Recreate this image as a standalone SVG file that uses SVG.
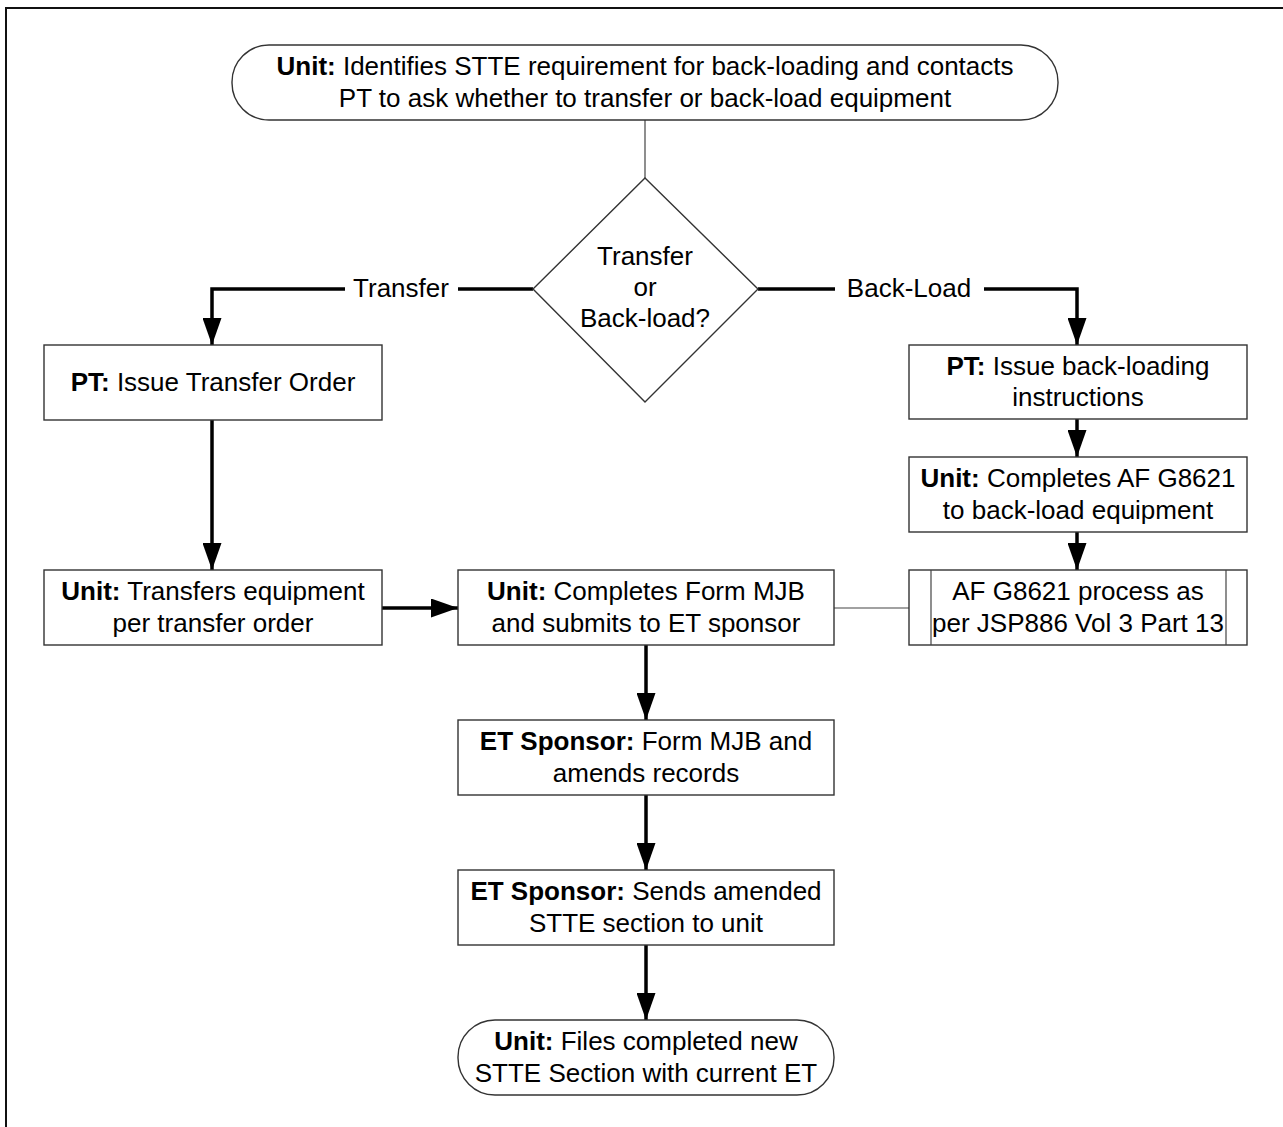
<svg xmlns="http://www.w3.org/2000/svg" width="1283" height="1127" viewBox="0 0 1283 1127">
<defs>
<style>
.box{fill:#fff;stroke:#333;stroke-width:1.4}
.t{font-family:"Liberation Sans",Arial,sans-serif;font-size:26px;fill:#000;text-anchor:middle}
.b{font-weight:bold}
.thick{fill:none;stroke:#000;stroke-width:3.5}
.thin{fill:none;stroke:#444;stroke-width:1.2}
</style>
<marker id="ah" viewBox="0 0 27 19" refX="27" refY="9.5" markerWidth="27" markerHeight="19" markerUnits="userSpaceOnUse" orient="auto">
<path d="M0,0 L27,9.5 L0,19 Z" fill="#000"/>
</marker>
</defs>
<rect width="1283" height="1127" fill="#fff"/>
<path d="M6,1127 V8 H1283" fill="none" stroke="#111" stroke-width="2"/>

<g id="connectors">
<line class="thin" x1="645" y1="120" x2="645" y2="178"/>
<polyline class="thick" points="533,289 458,289"/>
<polyline class="thick" points="345,289 212,289 212,345" marker-end="url(#ah)"/>
<polyline class="thick" points="758,289 835,289"/>
<polyline class="thick" points="984,289 1077,289 1077,345" marker-end="url(#ah)"/>
<line class="thick" x1="212" y1="420" x2="212" y2="570" marker-end="url(#ah)"/>
<line class="thick" x1="382" y1="608" x2="458" y2="608" marker-end="url(#ah)"/>
<line class="thin" x1="834" y1="608" x2="909" y2="608"/>
<line class="thick" x1="1077" y1="419" x2="1077" y2="457" marker-end="url(#ah)"/>
<line class="thick" x1="1077" y1="532" x2="1077" y2="570" marker-end="url(#ah)"/>
<line class="thick" x1="646" y1="645" x2="646" y2="720" marker-end="url(#ah)"/>
<line class="thick" x1="646" y1="795" x2="646" y2="870" marker-end="url(#ah)"/>
<line class="thick" x1="646" y1="945" x2="646" y2="1020" marker-end="url(#ah)"/>
<text class="t" x="401" y="297">Transfer</text>
<text class="t" x="909" y="297">Back-Load</text>
</g>

<g id="start">
<rect class="box" x="232" y="45" width="826" height="75" rx="37" ry="37"/>
<text class="t" x="645" y="75"><tspan class="b">Unit:</tspan> Identifies STTE requirement for back-loading and contacts</text>
<text class="t" x="645" y="107">PT to ask whether to transfer or back-load equipment</text>
</g>

<g id="decision">
<polygon class="box" points="645,178 758,289 645,402 533,289"/>
<text class="t" x="645" y="265">Transfer</text>
<text class="t" x="645" y="296">or</text>
<text class="t" x="645" y="327">Back-load?</text>
</g>

<g id="pt-transfer">
<rect class="box" x="44" y="345" width="338" height="75"/>
<text class="t" x="213" y="391"><tspan class="b">PT:</tspan> Issue Transfer Order</text>
</g>

<g id="unit-transfers">
<rect class="box" x="44" y="570" width="338" height="75"/>
<text class="t" x="213" y="600"><tspan class="b">Unit:</tspan> Transfers equipment</text>
<text class="t" x="213" y="632">per transfer order</text>
</g>

<g id="unit-mjb">
<rect class="box" x="458" y="570" width="376" height="75"/>
<text class="t" x="646" y="600"><tspan class="b">Unit:</tspan> Completes Form MJB</text>
<text class="t" x="646" y="632">and submits to ET sponsor</text>
</g>

<g id="pt-backload">
<rect class="box" x="909" y="345" width="338" height="74"/>
<text class="t" x="1078" y="375"><tspan class="b">PT:</tspan> Issue back-loading</text>
<text class="t" x="1078" y="406">instructions</text>
</g>

<g id="unit-af">
<rect class="box" x="909" y="457" width="338" height="75"/>
<text class="t" x="1078" y="487"><tspan class="b">Unit:</tspan> Completes AF G8621</text>
<text class="t" x="1078" y="519">to back-load equipment</text>
</g>

<g id="af-process">
<rect class="box" x="909" y="570" width="338" height="75"/>
<line class="thin" x1="931" y1="570" x2="931" y2="645"/>
<line class="thin" x1="1226" y1="570" x2="1226" y2="645"/>
<text class="t" x="1078" y="600">AF G8621 process as</text>
<text class="t" x="1078" y="632">per JSP886 Vol 3 Part 13</text>
</g>

<g id="et-records">
<rect class="box" x="458" y="720" width="376" height="75"/>
<text class="t" x="646" y="750"><tspan class="b">ET Sponsor:</tspan> Form MJB and</text>
<text class="t" x="646" y="782">amends records</text>
</g>

<g id="et-sends">
<rect class="box" x="458" y="870" width="376" height="75"/>
<text class="t" x="646" y="900"><tspan class="b">ET Sponsor:</tspan> Sends amended</text>
<text class="t" x="646" y="932">STTE section to unit</text>
</g>

<g id="end">
<rect class="box" x="458" y="1020" width="376" height="75" rx="37" ry="37"/>
<text class="t" x="646" y="1050"><tspan class="b">Unit:</tspan> Files completed new</text>
<text class="t" x="646" y="1082">STTE Section with current ET</text>
</g>
</svg>
